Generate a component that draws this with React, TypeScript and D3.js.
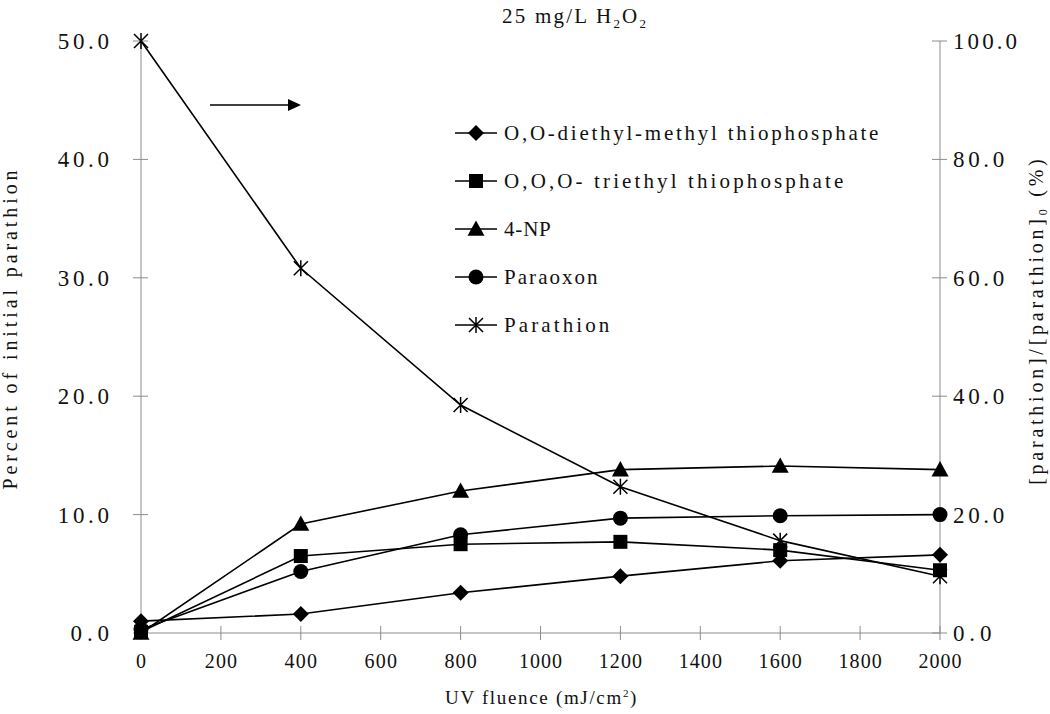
import React from "react";
import * as d3 from "d3";

const fluence = [0, 400, 800, 1200, 1600, 2000];
const diethylMethyl = [1.0, 1.6, 3.4, 4.8, 6.1, 6.6];
const triethyl = [0.1, 6.5, 7.5, 7.7, 7.0, 5.3];
const nitrophenol = [0.0, 9.2, 12.0, 13.8, 14.1, 13.8];
const paraoxon = [0.3, 5.2, 8.3, 9.7, 9.9, 10.0];
const parathionPct = [100.0, 61.6, 38.5, 24.7, 15.6, 9.6];

const leftTicks = [0, 10, 20, 30, 40, 50];
const rightTicks = [0, 20, 40, 60, 80, 100];
const xTicks = [0, 200, 400, 600, 800, 1000, 1200, 1400, 1600, 1800, 2000];

const seriesNames = [
  "O,O-diethyl-methyl thiophosphate",
  "O,O,O- triethyl thiophosphate",
  "4-NP",
  "Paraoxon",
  "Parathion",
];

const W = 1050;
const H = 714;
const FONT = "'Liberation Serif', 'DejaVu Serif', serif";
const AXIS = "#8c8c8c";
const INK = "#111";

function Marker({ type, x, y }: { type: string; x: number; y: number }) {
  if (type === "diamond") {
    const s = 8;
    return <path d={`M${x},${y - s}L${x + s},${y}L${x},${y + s}L${x - s},${y}Z`} fill="#000" />;
  }
  if (type === "square") {
    const s = 7;
    return <rect x={x - s} y={y - s} width={2 * s} height={2 * s} fill="#000" />;
  }
  if (type === "triangle") {
    const s = 8.5;
    return <path d={`M${x},${y - s}L${x + s},${y + s * 0.8}L${x - s},${y + s * 0.8}Z`} fill="#000" />;
  }
  if (type === "circle") {
    return <circle cx={x} cy={y} r={7.5} fill="#000" />;
  }
  const s = 7;
  return (
    <g stroke="#000" strokeWidth={1.5} fill="none">
      <path d={`M${x - s},${y - s}L${x + s},${y + s}M${x - s},${y + s}L${x + s},${y - s}M${x},${y - s - 1}L${x},${y + s + 1}`} />
    </g>
  );
}

export default function App() {
  const x = d3.scaleLinear().domain([0, 2000]).range([141, 940]);
  const yL = d3.scaleLinear().domain([0, 50]).range([633, 41]);
  const yR = d3.scaleLinear().domain([0, 100]).range([633, 41]);

  const series = [
    { vals: diethylMethyl, y: yL, type: "diamond" },
    { vals: triethyl, y: yL, type: "square" },
    { vals: nitrophenol, y: yL, type: "triangle" },
    { vals: paraoxon, y: yL, type: "circle" },
    { vals: parathionPct, y: yR, type: "star" },
  ];

  const line = (vals: number[], ys: d3.ScaleLinear<number, number>) =>
    d3
      .line<number>()
      .x((_, i) => x(fluence[i]))
      .y((d) => ys(d))(vals) as string;

  const legX = 455;
  const legY0 = 133;
  const legDy = 48;
  const tickCW = 12.8;

  return (
    <svg width={W} height={H} style={{ position: "absolute", left: 0, top: 0, background: "#fff" }} fontFamily={FONT}>
      <rect width={W} height={H} fill="#fff" />
      {/* axes */}
      <g stroke={AXIS} strokeWidth={1}>
        <line x1={x(0)} x2={x(2000)} y1={yL(0)} y2={yL(0)} />
        <line x1={x(0)} x2={x(0)} y1={yL(0)} y2={yL(50)} />
        <line x1={x(2000)} x2={x(2000)} y1={yR(0)} y2={yR(100)} />
        {xTicks.map((t) => (
          <line key={"xt" + t} x1={x(t)} x2={x(t)} y1={yL(0) - 7} y2={yL(0) + 7} />
        ))}
        {leftTicks.map((t) => (
          <line key={"lt" + t} x1={x(0) - 8} x2={x(0) + 7} y1={yL(t)} y2={yL(t)} />
        ))}
        {rightTicks.map((t) => (
          <line key={"rt" + t} x1={x(2000) - 8} x2={x(2000) + 7} y1={yR(t)} y2={yR(t)} />
        ))}
      </g>
      {/* tick labels */}
      <g fontSize={23} fill={INK}>
        {leftTicks.map((t) => {
          const s = t.toFixed(1);
          return (
            <text key={"ll" + t} x={109} y={yL(t)} dy="0.35em" textAnchor="end" textLength={s.length * tickCW} lengthAdjust="spacing">
              {s}
            </text>
          );
        })}
        {rightTicks.map((t) => {
          const s = t.toFixed(1);
          return (
            <text key={"rl" + t} x={953} y={yR(t)} dy="0.35em" textAnchor="start" textLength={s.length * tickCW} lengthAdjust="spacing">
              {s}
            </text>
          );
        })}
      </g>
      <g fontSize={20} fill={INK}>
        {xTicks.map((t) => {
          const s = String(t);
          return (
            <text key={"xl" + t} x={x(t)} y={668} textAnchor="middle" textLength={s.length * 10.8} lengthAdjust="spacing">
              {s}
            </text>
          );
        })}
      </g>
      {/* titles */}
      <text x={502} y={23} fontSize={21} fill={INK} textLength={10 * 13 + 2 * 7} lengthAdjust="spacing">
        25 mg/L H<tspan fontSize={13} dy={5}>2</tspan>
        <tspan dy={-5}>O</tspan>
        <tspan fontSize={13} dy={5}>2</tspan>
      </text>
      <text x={445} y={704} fontSize={19} fill={INK} textLength={18 * 10.3 + 6} lengthAdjust="spacing">
        UV fluence (mJ/cm<tspan fontSize={11} dy={-7}>2</tspan>
        <tspan dy={7}>)</tspan>
      </text>
      <text transform={`translate(17,${330}) rotate(-90)`} fontSize={20} fill={INK} textAnchor="middle" textLength={28 * 11.4} lengthAdjust="spacing">
        Percent of initial parathion
      </text>
      <text transform={`translate(1043,${322}) rotate(-90)`} fontSize={20} fill={INK} textAnchor="middle" textLength={27 * 11.8 + 7} lengthAdjust="spacing">
        [parathion]/[parathion]<tspan fontSize={12} dy={4}>0</tspan>
        <tspan dy={-4}> (%)</tspan>
      </text>
      {/* series */}
      {series.map((s, si) => (
        <g key={"s" + si}>
          <path d={line(s.vals, s.y)} fill="none" stroke="#000" strokeWidth={1.6} />
          {s.vals.map((v, i) => (
            <Marker key={i} type={s.type} x={x(fluence[i])} y={s.y(v)} />
          ))}
        </g>
      ))}
      {/* arrow */}
      <line x1={210} x2={290} y1={105} y2={105} stroke="#000" strokeWidth={1.6} />
      <path d="M288,99L301,105L288,111Z" fill="#000" />
      {/* legend */}
      {series.map((s, i) => (
        <g key={"lg" + i}>
          <line x1={legX} x2={legX + 42} y1={legY0 + i * legDy} y2={legY0 + i * legDy} stroke="#000" strokeWidth={1.6} />
          <Marker type={s.type} x={legX + 21} y={legY0 + i * legDy} />
          <text
            x={legX + 49}
            y={legY0 + i * legDy}
            dy="0.35em"
            fontSize={21}
            fill={INK}
            textLength={seriesNames[i].length * 11.7}
            lengthAdjust="spacing"
          >
            {seriesNames[i]}
          </text>
        </g>
      ))}
    </svg>
  );
}
